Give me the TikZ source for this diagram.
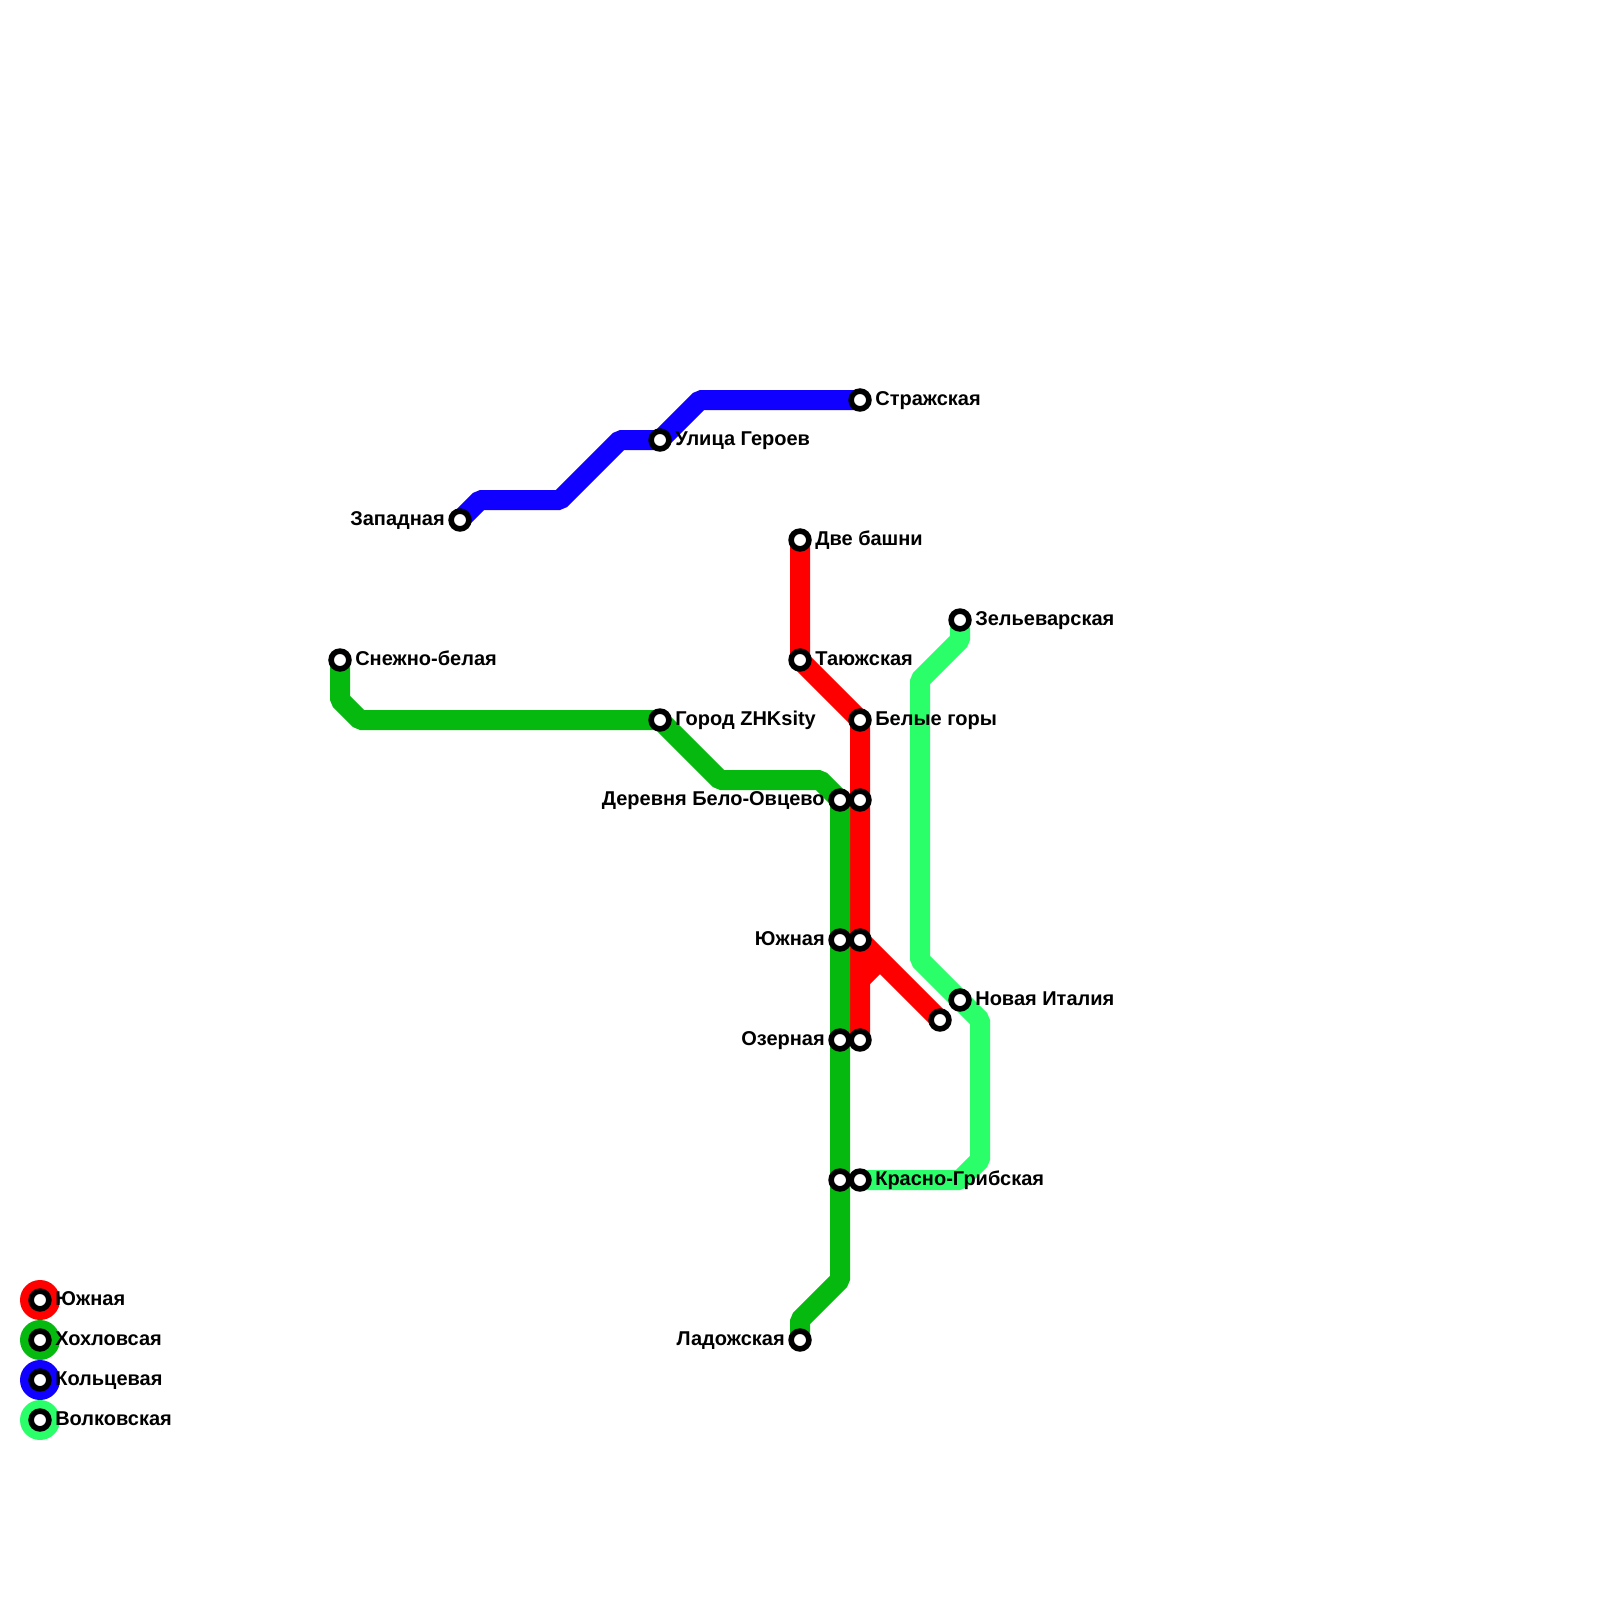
\documentclass[tikz,border=0pt]{standalone}
\usepackage{fontspec}
\setmainfont{Liberation Sans}
\usepackage{xcolor}
\usetikzlibrary{positioning,backgrounds}
\definecolor{lineSouth}{HTML}{FF0000}
\definecolor{lineKhokh}{HTML}{05B90F}
\definecolor{lineRing}{HTML}{1000FF}
\definecolor{lineWolf}{HTML}{2AFF6A}
\tikzset{
    station/.style={
        circle,
        draw=black,
        fill=white,
        line width=5.6pt,
        minimum size=17.8pt,
        inner sep=0pt
    },
    stationLabel/.style={
        font=\bfseries\fontsize{20}{22}\selectfont,
        text=black,
        inner sep=0pt,
        text height=15pt,
        text depth=4pt
    },
    metroLine/.style={line width=20pt, line join=bevel},
    legendDot/.style={circle, minimum size=40pt, inner sep=0pt}
}
\begin{document}
\begin{tikzpicture}[x=1pt, y=-1pt]
    \useasboundingbox (0,0) rectangle (1600,1600);

    % Stations
    \node[station] (dveBashni) at (800,540) {};
    \node[station] (tayozh) at (800,660) {};
    \node[station] (belyeGory) at (860,720) {};
    \node[station] (beloRed) at (860,800) {};
    \node[station] (yuzhRed) at (860,940) {};
    \node[station] (ozerRed) at (860,1040) {};
    \node[station] (redEnd) at (940,1020) {};

    \node[station] (snezhno) at (340,660) {};
    \node[station] (gorod) at (660,720) {};
    \node[station] (beloGreen) at (840,800) {};
    \node[station] (yuzhGreen) at (840,940) {};
    \node[station] (ozerGreen) at (840,1040) {};
    \node[station] (krasGreen) at (840,1180) {};
    \node[station] (ladozh) at (800,1340) {};

    \node[station] (zapad) at (460,520) {};
    \node[station] (geroev) at (660,440) {};
    \node[station] (strazh) at (860,400) {};

    \node[station] (zelye) at (960,620) {};
    \node[station] (italia) at (960,1000) {};
    \node[station] (krasno) at (860,1180) {};

    % Bends
    \coordinate (redFork) at (860,980);
    \coordinate (redKnee) at (880,960);

    \coordinate (gr1) at (340,700);
    \coordinate (gr2) at (360,720);
    \coordinate (gr3) at (720,780);
    \coordinate (gr4) at (820,780);
    \coordinate (gr5) at (840,1280);
    \coordinate (gr6) at (800,1320);

    \coordinate (bl1) at (480,500);
    \coordinate (bl2) at (560,500);
    \coordinate (bl3) at (620,440);
    \coordinate (bl4) at (700,400);

    \coordinate (wf1) at (960,640);
    \coordinate (wf2) at (920,680);
    \coordinate (wf3) at (920,960);
    \coordinate (wf4) at (980,1020);
    \coordinate (wf5) at (980,1160);
    \coordinate (wf6) at (960,1180);

    % Labels
    \node[stationLabel, right=3.4pt of dveBashni] (dveBashniText) {Две башни};
    \node[stationLabel, right=3.4pt of tayozh] (tayozhText) {Таюжская};
    \node[stationLabel, right=3.4pt of belyeGory] (belyeGoryText) {Белые горы};
    \node[stationLabel, right=3.4pt of snezhno] (snezhnoText) {Снежно-белая};
    \node[stationLabel, right=3.4pt of gorod] (gorodText) {Город ZHKsity};
    \node[stationLabel, left=3.4pt of beloGreen] (beloText) {Деревня Бело-Овцево};
    \node[stationLabel, left=3.4pt of yuzhGreen] (yuzhText) {Южная};
    \node[stationLabel, left=3.4pt of ozerGreen] (ozerText) {Озерная};
    \node[stationLabel, left=3.4pt of ladozh] (ladozhText) {Ладожская};
    \node[stationLabel, left=3.4pt of zapad] (zapadText) {Западная};
    \node[stationLabel, right=3.4pt of geroev] (geroevText) {Улица Героев};
    \node[stationLabel, right=3.4pt of strazh] (strazhText) {Стражская};
    \node[stationLabel, right=3.4pt of zelye] (zelyeText) {Зельеварская};
    \node[stationLabel, right=3.4pt of italia] (italiaText) {Новая Италия};
    \node[stationLabel, right=3.4pt of krasno] (krasnoText) {Красно-Грибская};

    % Legend
    \node[station] (keySouth) at (40,1300) {};
    \node[station, below=16.6pt of keySouth] (keyKhokh) {};
    \node[station, below=16.6pt of keyKhokh] (keyRing) {};
    \node[station, below=16.6pt of keyRing] (keyWolf) {};
    \node[stationLabel, right=3.4pt of keySouth] (keySouthText) {Южная};
    \node[stationLabel, right=3.4pt of keyKhokh] (keyKhokhText) {Хохловсая};
    \node[stationLabel, right=3.4pt of keyRing] (keyRingText) {Кольцевая};
    \node[stationLabel, right=3.4pt of keyWolf] (keyWolfText) {Волковская};

    \begin{scope}[on background layer]
        \node[legendDot, fill=lineSouth] (dotSouth) at (keySouth) {};
        \node[legendDot, fill=lineKhokh] (dotKhokh) at (keyKhokh) {};
        \node[legendDot, fill=lineRing] (dotRing) at (keyRing) {};
        \node[legendDot, fill=lineWolf] (dotWolf) at (keyWolf) {};

        \draw[metroLine, draw=lineWolf] (zelye.center) -- (wf1) -- (wf2) -- (wf3) -- (italia.center) -- (wf4) -- (wf5) -- (wf6) -- (krasno.center);
        \draw[metroLine, draw=lineSouth] (dveBashni.center) -- (tayozh.center) -- (belyeGory.center) -- (ozerRed.center);
        \draw[metroLine, draw=lineSouth] (yuzhRed.center) -- (redEnd.center);
        \draw[metroLine, draw=lineSouth] (redFork) -- (redKnee);
        \draw[metroLine, draw=lineKhokh] (snezhno.center) -- (gr1) -- (gr2) -- (gorod.center) -- (gr3) -- (gr4) -- (beloGreen.center) -- (gr5) -- (gr6) -- (ladozh.center);
        \draw[metroLine, draw=lineRing] (zapad.center) -- (bl1) -- (bl2) -- (bl3) -- (geroev.center) -- (bl4) -- (strazh.center);
    \end{scope}
\end{tikzpicture}
\end{document}
